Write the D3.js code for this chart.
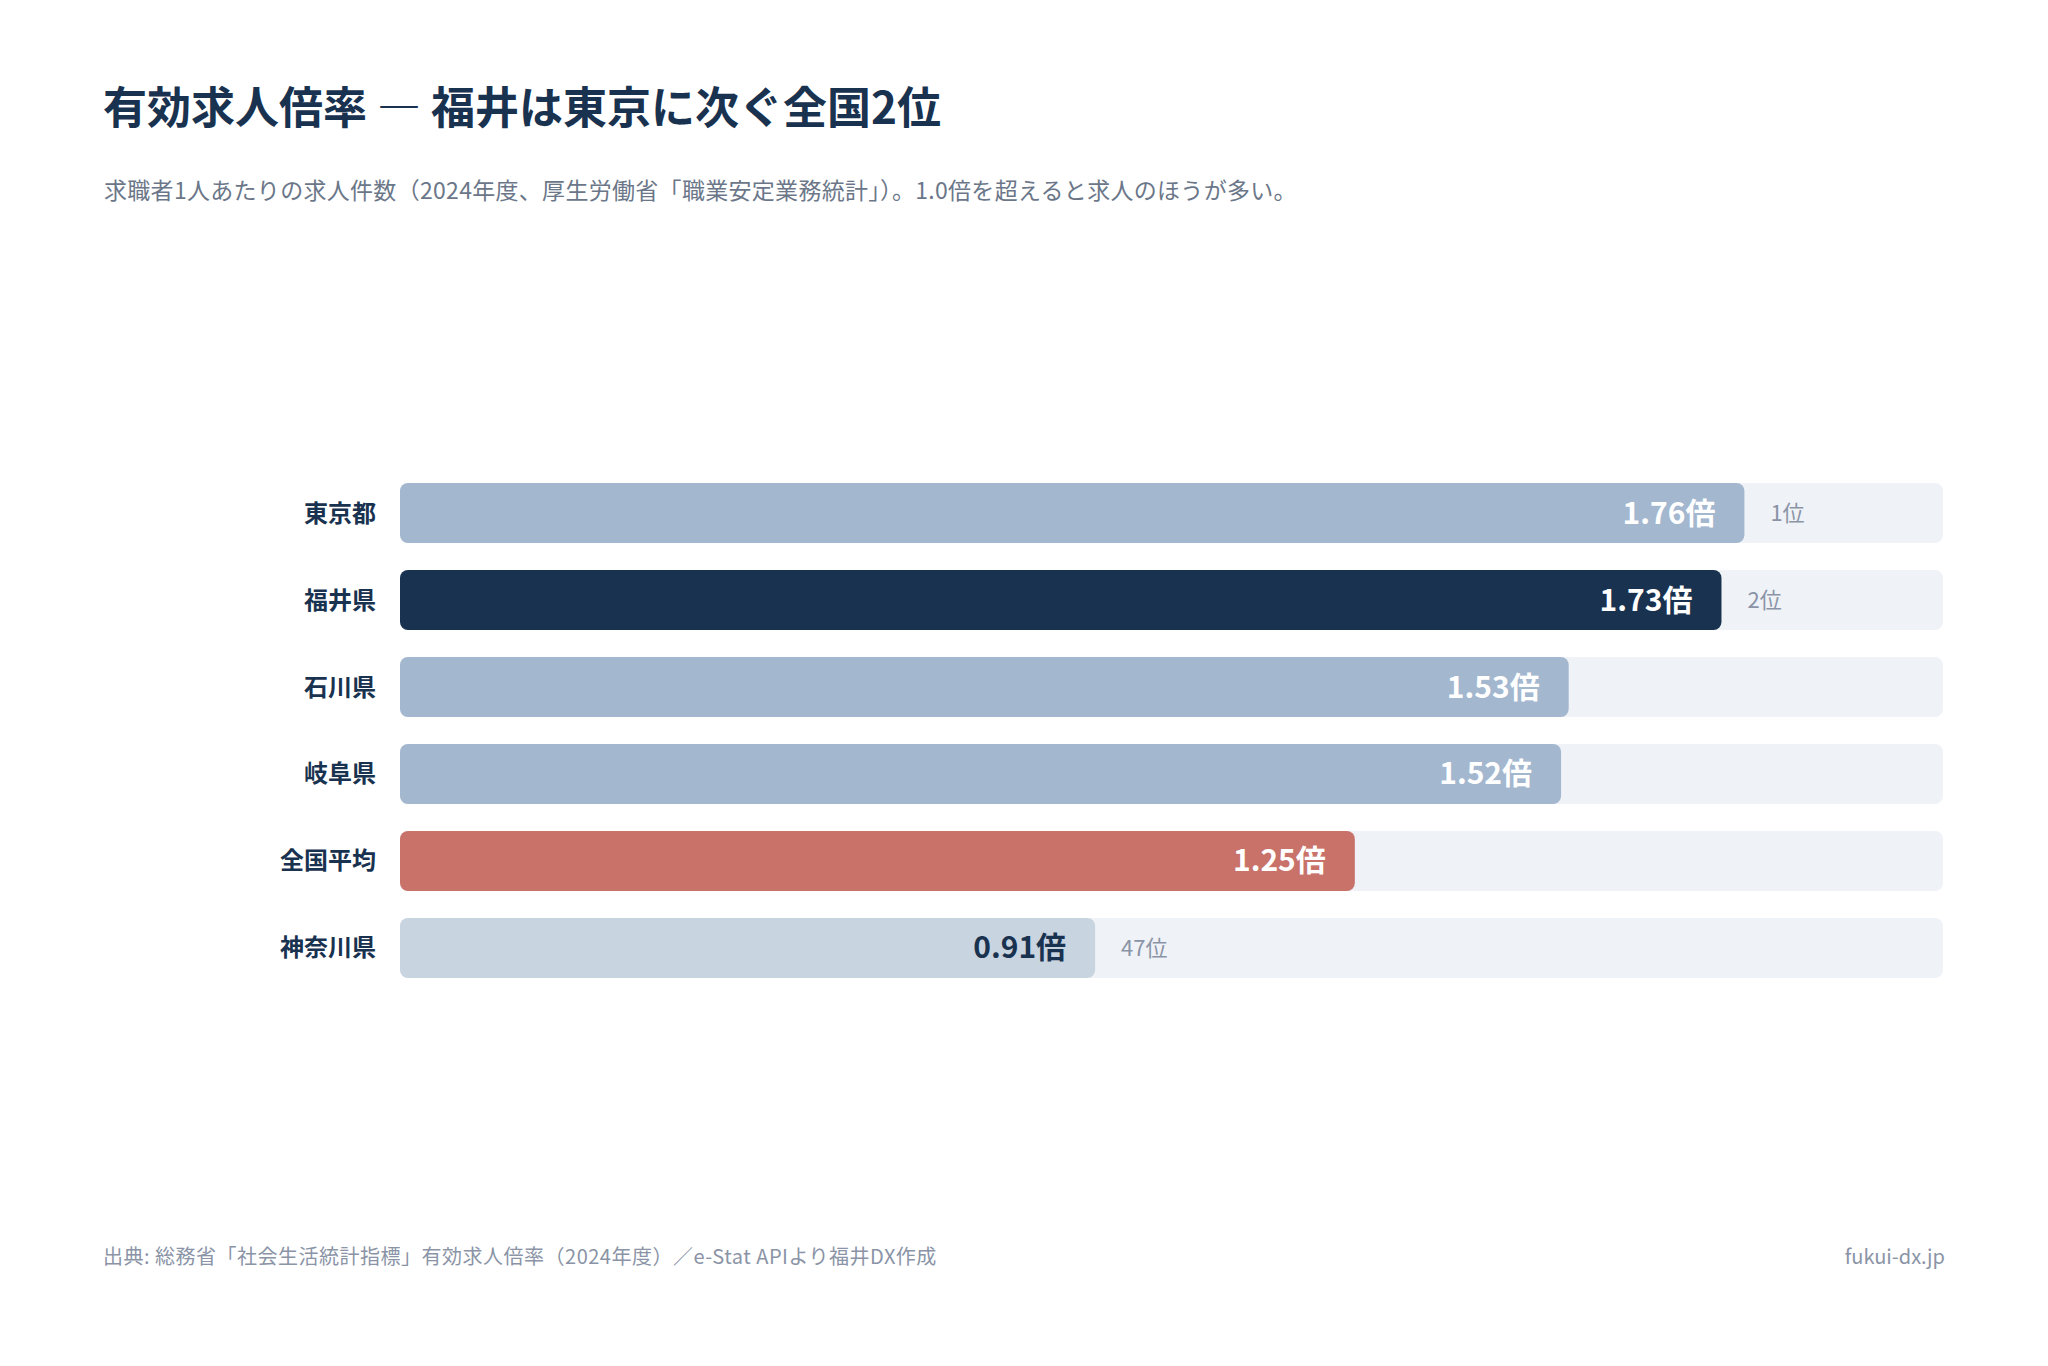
<!DOCTYPE html>
<html lang="ja">
<head>
<meta charset="utf-8">
<script src="https://cdn.jsdelivr.net/npm/d3@7"></script>
<style>
  html, body { margin: 0; padding: 0; background: #fff; }
  svg { display: block; font-family: "Noto Sans CJK JP", "Noto Sans", sans-serif; }
</style>
</head>
<body>
<svg id="chart" width="2048" height="1366"></svg>
<script>
// データ
let prefs = ['東京都', '福井県', '石川県', '岐阜県', '全国平均', '神奈川県'];
let ratios = [1.76, 1.73, 1.53, 1.52, 1.25, 0.91];
let ranks = [1, 2, null, null, null, 47];
let kinds = ['other', 'fukui', 'other', 'other', 'national', 'low'];

let titleText = '有効求人倍率 — 福井は東京に次ぐ全国2位';
let subText = '求職者1人あたりの求人件数（2024年度、厚生労働省「職業安定業務統計」）。1.0倍を超えると求人のほうが多い。';
let sourceText = '出典: 総務省「社会生活統計指標」有効求人倍率（2024年度）／e-Stat APIより福井DX作成';
let siteText = 'fukui-dx.jp';

let chart = (function () {
    let svg = d3.select('#chart');
    let navy = '#19324f';
    let bar_color = { other: '#a3b7cf', fukui: '#19324f', national: '#c8726a', low: '#c9d4e1' };
    let text_color = { other: '#ffffff', fukui: '#ffffff', national: '#ffffff', low: '#19324f' };

    function draw() {
        let rows = prefs.map((p, i) => ({ name: p, value: ratios[i], rank: ranks[i], kind: kinds[i] }));

        // タイトル
        svg.append('text')
            .attr('x', 103).attr('y', 124)
            .attr('font-size', 44).attr('font-weight', 700)
            .attr('fill', navy)
            .text(titleText);
        svg.append('text')
            .attr('x', 104).attr('y', 199)
            .attr('font-size', 23)
            .attr('letter-spacing', 0.3)
            .attr('fill', '#6b7789')
            .text(subText);

        let x = d3.scaleLinear().domain([0, 2.02]).range([400, 1943]);
        let y = d3.scaleBand().domain(prefs).range([483, 978]).paddingInner(0.31).paddingOuter(0);
        let bh = y.bandwidth();

        let g = svg.append('g');
        // 背景トラック
        g.selectAll('rect.track').data(rows).enter()
            .append('rect')
            .attr('class', 'track')
            .attr('x', x(0)).attr('y', d => y(d.name))
            .attr('width', x(2.02) - x(0)).attr('height', bh)
            .attr('rx', 8)
            .attr('fill', '#eff2f7');
        // バー
        g.selectAll('rect.bar').data(rows).enter()
            .append('rect')
            .attr('class', 'bar')
            .attr('x', x(0)).attr('y', d => y(d.name))
            .attr('width', d => x(d.value) - x(0)).attr('height', bh)
            .attr('rx', 8)
            .attr('fill', d => bar_color[d.kind]);

        // 県名
        g.selectAll('text.name').data(rows).enter()
            .append('text')
            .attr('class', 'name')
            .attr('x', 376).attr('y', d => y(d.name) + bh / 2 + 8.5)
            .attr('text-anchor', 'end')
            .attr('font-size', 24).attr('font-weight', 700)
            .attr('fill', navy)
            .text(d => d.name);

        // 値ラベル
        g.selectAll('text.val').data(rows).enter()
            .append('text')
            .attr('class', 'val')
            .attr('x', d => x(d.value) - 29).attr('y', d => y(d.name) + bh / 2 + 10.5)
            .attr('text-anchor', 'end')
            .attr('font-size', 30).attr('font-weight', 700)
            .attr('fill', d => text_color[d.kind])
            .text(d => d.value.toFixed(2) + '倍');

        // 順位
        g.selectAll('text.rank').data(rows.filter(d => d.rank != null)).enter()
            .append('text')
            .attr('class', 'rank')
            .attr('x', d => x(d.value) + 26).attr('y', d => y(d.name) + bh / 2 + 8)
            .attr('font-size', 22)
            .attr('fill', '#8a94a6')
            .text(d => d.rank + '位');

        // 出典
        svg.append('text')
            .attr('x', 103).attr('y', 1264)
            .attr('font-size', 20)
            .attr('letter-spacing', 0.5)
            .attr('fill', '#8a94a6')
            .text(sourceText);
        svg.append('text')
            .attr('x', 1945).attr('y', 1264)
            .attr('text-anchor', 'end')
            .attr('font-size', 20)
            .attr('fill', '#8a94a6')
            .text(siteText);
    }

    return { draw };
})();

chart.draw();
</script>
</body>
</html>
